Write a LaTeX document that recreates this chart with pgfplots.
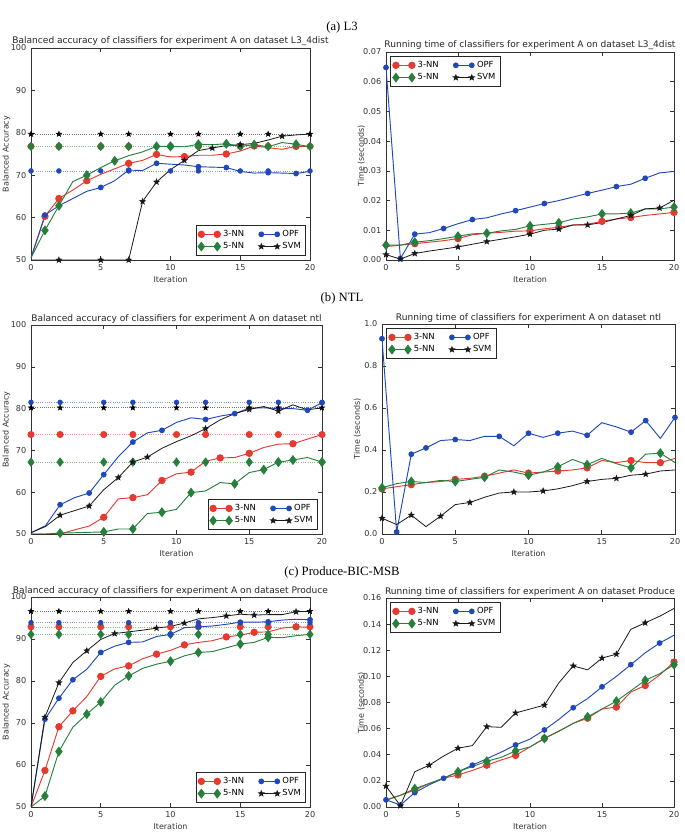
\documentclass[border=0pt]{standalone}
\usepackage{fontspec}
\setmainfont{DejaVu Sans}
\newfontfamily\capfont{Liberation Serif}
\usepackage{pgfplots}
\pgfplotsset{compat=1.18}
\definecolor{cR}{RGB}{228,58,48}
\definecolor{cG}{RGB}{38,128,60}
\definecolor{cB}{RGB}{32,72,186}
\pgfdeclareplotmark{fstar}{%
 \pgfpathmoveto{\pgfpointpolar{90}{\pgfplotmarksize}}%
 \pgfpathlineto{\pgfpointpolar{126}{0.42\pgfplotmarksize}}%
 \pgfpathlineto{\pgfpointpolar{162}{\pgfplotmarksize}}%
 \pgfpathlineto{\pgfpointpolar{198}{0.42\pgfplotmarksize}}%
 \pgfpathlineto{\pgfpointpolar{234}{\pgfplotmarksize}}%
 \pgfpathlineto{\pgfpointpolar{270}{0.42\pgfplotmarksize}}%
 \pgfpathlineto{\pgfpointpolar{306}{\pgfplotmarksize}}%
 \pgfpathlineto{\pgfpointpolar{342}{0.42\pgfplotmarksize}}%
 \pgfpathlineto{\pgfpointpolar{18}{\pgfplotmarksize}}%
 \pgfpathlineto{\pgfpointpolar{54}{0.42\pgfplotmarksize}}%
 \pgfpathclose\pgfusepathqfillstroke}
\pgfplotsset{
 nn3/.style={color=cR, mark=*, mark size=2.4pt, line width=0.7pt, mark options={solid}},
 nn5/.style={color=cG, mark=diamond*, mark size=3.2pt, line width=0.7pt, mark options={solid}},
 opf/.style={color=cB, mark=*, mark size=1.8pt, line width=0.7pt, mark options={solid}},
 svm/.style={color=black!90, mark=fstar, mark size=2.0pt, line width=0.6pt, mark options={solid}},
 common/.style={scale only axis, anchor=south west, xmin=0, xmax=20, xtick={0,5,10,15,20},
  xlabel={Iteration},
  axis line style={line width=0.6pt, black!80},
  tick style={black!80, line width=0.4pt}, major tick length=3pt,
  tick label style={font=\fontsize{6.1}{7}\selectfont, color=black!80},
  label style={font=\fontsize{6}{7}\selectfont, color=black!80},
  xlabel style={yshift=2.5pt},
  ylabel style={at={(rel axis cs:0,0.5)}, yshift=18.5pt, anchor=center},
  title style={font=\fontsize{6.8}{8}\selectfont, color=black!85, yshift=-8pt},
  /pgf/number format/assume math mode=true,
  legend columns=2, legend cell align=left,
  legend style={font=\fontsize{6.3}{7.5}\selectfont, draw=black!85, line width=0.6pt, inner sep=1.5pt,
    /tikz/every even column/.append style={column sep=9pt}, row sep=-1pt},
  legend image code/.code={\draw[##1, mark indices={1,2}] plot coordinates {(0cm,0cm) (0.42cm,0cm)};},
  scaled y ticks=false},
 accax/.style={common, ymin=50, ymax=100, ytick={50,60,...,100}, ylabel={Balanced Accuracy},
  legend style={at={(0.985,0.02)}, anchor=south east}},
 timax/.style={common, ylabel={Time (seconds)},
  legend style={at={(0.015,0.98)}, anchor=north west},
  yticklabel style={/pgf/number format/.cd, fixed, fixed zerofill, precision=#1}},
}
\newcommand{\oneref}[4]{%
 \addplot[#1, draw=#2!55, densely dotted, line width=0.45pt, forget plot, mark options={solid, draw=#2, fill=#2}] coordinates {(0,#4)(2,#4)(5,#4)(7,#4)(10,#4)(12,#4)(15,#4)(17,#4)(20,#4)};}
\newcommand{\reflines}[4]{%
 \oneref{nn3}{cR}{x}{#1}
 \oneref{opf}{cB}{x}{#3}
 \oneref{nn5}{cG}{x}{#2}
 \oneref{svm}{black}{x}{#4}
}
\begin{document}
\begin{tikzpicture}
\useasboundingbox (0,0) rectangle (513.75pt,624pt);
% captions
\node[font=\capfont\fontsize{9.5}{11}\selectfont] at (256.5pt,603.75pt) {(a) L3};
\node[font=\capfont\fontsize{9.5}{11}\selectfont] at (256.5pt,400.5pt) {(b) NTL};
\node[font=\capfont\fontsize{9.5}{11}\selectfont] at (256.5pt,195pt) {(c) Produce-BIC-MSB};

% (a) left
\begin{axis}[accax, at={(23.25pt,429pt)}, width=209.25pt, height=159pt,
 title={Balanced accuracy of classifiers for experiment A on dataset L3\_4dist}]
\reflines{76.8}{76.8}{71.0}{79.7}
\addplot[nn3, mark indices={2,3,5,8,10,12,15,17,20}] coordinates {(0,50.5)(1,60.3)(2,64.5)(3,66.5)(4,68.7)(5,70.2)(6,71.5)(7,72.8)(8,73.5)(9,74.9)(10,74.3)(11,74.4)(12,74.7)(13,74.7)(14,75.0)(15,75.7)(16,76.9)(17,76.5)(18,76.1)(19,76.8)(20,76.8)};
\addlegendentry{3-NN}
\addplot[opf, mark indices={2,3,6,8,10,13,15,18,20}] coordinates {(0,50.5)(1,60.6)(2,62.8)(3,64.5)(4,66.2)(5,67.1)(6,68.7)(7,71.2)(8,71.1)(9,72.8)(10,72.6)(11,72.4)(12,72.0)(13,71.9)(14,71.8)(15,70.9)(16,70.5)(17,70.6)(18,70.5)(19,70.4)(20,70.9)};
\addlegendentry{OPF}
\addplot[nn5, mark indices={2,3,5,7,10,11,13,15,17,20}] coordinates {(0,50.5)(1,57.0)(2,62.8)(3,68.5)(4,70.0)(5,71.8)(6,73.4)(7,74.6)(8,75.5)(9,76.8)(10,76.8)(11,76.7)(12,77.3)(13,77.2)(14,77.4)(15,76.8)(16,77.2)(17,76.7)(18,77.7)(19,77.3)(20,76.7)};
\addlegendentry{5-NN}
\addplot[svm, mark indices={3,6,8,9,10,12,14,16,19}] coordinates {(0,50)(1,50)(2,50)(3,50)(4,50)(5,50)(6,50)(7,50)(8,63.8)(9,68.4)(10,71.3)(11,73.5)(12,75.8)(13,76.4)(14,77.0)(15,77.2)(16,77.5)(17,78.3)(18,79.2)(19,79.5)(20,79.7)};
\addlegendentry{SVM}
\end{axis}

% (a) right
\begin{axis}[timax=2, at={(289.5pt,429pt)}, width=216pt, height=156pt,
 ymin=0, ymax=0.07, ytick={0,0.01,...,0.07},
 title={Running time of classifiers for experiment A on dataset L3\_4dist}]
\addplot[nn3, mark indices={3,6,11,13,16,18,21}] coordinates {(0,0.0045)(1,0.0050)(2,0.0055)(3,0.0060)(4,0.0065)(5,0.0072)(6,0.0085)(7,0.0090)(8,0.0093)(9,0.0097)(10,0.0098)(11,0.0105)(12,0.0110)(13,0.0118)(14,0.0120)(15,0.0130)(16,0.0138)(17,0.0143)(18,0.0150)(19,0.0155)(20,0.0160)};
\addlegendentry{3-NN}
\addplot[opf, mark indices={1,2,3,5,7,10,12,15,17,19}] coordinates {(0,0.0648)(1,0.0005)(2,0.0087)(3,0.0092)(4,0.0106)(5,0.0122)(6,0.0136)(7,0.0142)(8,0.0155)(9,0.0166)(10,0.0178)(11,0.0190)(12,0.0200)(13,0.0212)(14,0.0224)(15,0.0235)(16,0.0247)(17,0.0255)(18,0.0275)(19,0.0293)(20,0.0298)};
\addlegendentry{OPF}
\addplot[nn5, mark indices={1,3,6,8,11,13,16,18,21}] coordinates {(0,0.0050)(1,0.0050)(2,0.0060)(3,0.0065)(4,0.0072)(5,0.0080)(6,0.0088)(7,0.0090)(8,0.0098)(9,0.0103)(10,0.0115)(11,0.0120)(12,0.0125)(13,0.0138)(14,0.0145)(15,0.0155)(16,0.0155)(17,0.0158)(18,0.0172)(19,0.0172)(20,0.0178)};
\addlegendentry{5-NN}
\addplot[svm, mark indices={1,2,3,6,8,11,13,15,18,20}] coordinates {(0,0.0018)(1,0.0003)(2,0.0022)(3,0.0030)(4,0.0037)(5,0.0044)(6,0.0053)(7,0.0062)(8,0.0070)(9,0.0078)(10,0.0087)(11,0.0100)(12,0.0104)(13,0.0118)(14,0.0118)(15,0.0126)(16,0.0138)(17,0.0150)(18,0.0172)(19,0.0175)(20,0.0201)};
\addlegendentry{SVM}
\end{axis}

% (b) left
\begin{axis}[accax, at={(23.25pt,223.5pt)}, width=218.25pt, height=156.75pt,
 title={Balanced accuracy of classifiers for experiment A on dataset ntl}]
\reflines{73.8}{67.2}{81.5}{80.2}
\addplot[nn3, mark indices={6,8,10,12,14,16,19}] coordinates {(0,50)(1,50)(2,50)(3,51.0)(4,51.9)(5,54.0)(6,58.4)(7,58.7)(8,59.4)(9,62.8)(10,64.4)(11,64.8)(12,67.4)(13,68.2)(14,68.3)(15,69.3)(16,70.7)(17,71.5)(18,71.6)(19,72.7)(20,73.8)};
\addlegendentry{3-NN}
\addplot[opf, mark indices={3,5,6,8,10,13,15,20,21}] coordinates {(0,50.3)(1,52.0)(2,57.0)(3,58.7)(4,59.8)(5,64.2)(6,68.5)(7,72.0)(8,74.2)(9,74.8)(10,76.7)(11,77.8)(12,77.4)(13,78.2)(14,78.8)(15,80.1)(16,80.2)(17,80.0)(18,80.0)(19,79.6)(20,81.4)};
\addlegendentry{OPF}
\addplot[nn5, mark indices={3,6,8,10,12,15,17,18,19,21}] coordinates {(0,50)(1,50)(2,50.2)(3,50.3)(4,50.4)(5,50.5)(6,51.2)(7,51.2)(8,54.9)(9,55.2)(10,55.9)(11,59.9)(12,60.3)(13,62.3)(14,62.0)(15,64.7)(16,65.4)(17,67.2)(18,67.7)(19,68.3)(20,67.2)};
\addlegendentry{5-NN}
\addplot[svm, mark indices={3,5,7,8,9,13,16,18}] coordinates {(0,50.3)(1,51.8)(2,54.5)(3,55.6)(4,56.7)(5,60.6)(6,63.5)(7,67.2)(8,68.4)(9,70.5)(10,72.1)(11,73.5)(12,75.2)(13,77.3)(14,78.8)(15,79.8)(16,80.5)(17,79.4)(18,80.9)(19,79.7)(20,80.2)};
\addlegendentry{SVM}
\end{axis}

% (b) right
\begin{axis}[timax=1, at={(286.5pt,223.5pt)}, width=219.75pt, height=157.5pt,
 ymin=0, ymax=1, ytick={0,0.2,...,1.0},
 title={Running time of classifiers for experiment A on dataset ntl}]
\addplot[nn3, mark indices={1,3,6,8,11,13,15,18,20}] coordinates {(0,0.215)(1,0.225)(2,0.235)(3,0.245)(4,0.250)(5,0.260)(6,0.265)(7,0.275)(8,0.290)(9,0.305)(10,0.290)(11,0.295)(12,0.300)(13,0.305)(14,0.315)(15,0.350)(16,0.340)(17,0.350)(18,0.340)(19,0.340)(20,0.360)};
\addlegendentry{3-NN}
\addplot[opf, mark indices={1,2,3,4,6,9,11,13,15,18,19,21}] coordinates {(0,0.930)(1,0.010)(2,0.380)(3,0.410)(4,0.445)(5,0.450)(6,0.445)(7,0.465)(8,0.465)(9,0.420)(10,0.480)(11,0.460)(12,0.480)(13,0.490)(14,0.470)(15,0.530)(16,0.510)(17,0.485)(18,0.540)(19,0.455)(20,0.555)};
\addlegendentry{OPF}
\addplot[nn5, mark indices={1,3,6,8,11,13,15,18,20}] coordinates {(0,0.220)(1,0.240)(2,0.250)(3,0.245)(4,0.255)(5,0.250)(6,0.260)(7,0.270)(8,0.305)(9,0.295)(10,0.280)(11,0.295)(12,0.320)(13,0.355)(14,0.330)(15,0.360)(16,0.335)(17,0.315)(18,0.380)(19,0.385)(20,0.340)};
\addlegendentry{5-NN}
\addplot[svm, mark indices={1,3,5,7,10,12,15,17,19}] coordinates {(0,0.075)(1,0.045)(2,0.090)(3,0.035)(4,0.085)(5,0.140)(6,0.150)(7,0.175)(8,0.195)(9,0.200)(10,0.200)(11,0.205)(12,0.215)(13,0.230)(14,0.250)(15,0.260)(16,0.265)(17,0.280)(18,0.285)(19,0.300)(20,0.305)};
\addlegendentry{SVM}
\end{axis}

% (c) left
\begin{axis}[accax, at={(23.25pt,18.75pt)}, width=209.25pt, height=157.5pt,
 title={Balanced accuracy of classifiers for experiment A on dataset Produce}]
\reflines{92.9}{91.1}{93.9}{96.6}
\addplot[nn3, mark indices={2,3,4,6,8,10,12,15,17,20}] coordinates {(0,50)(1,58.7)(2,69.1)(3,72.9)(4,76.3)(5,81.1)(6,82.9)(7,83.6)(8,85.3)(9,86.4)(10,87.3)(11,88.6)(12,89.2)(13,89.6)(14,90.5)(15,90.9)(16,91.6)(17,91.7)(18,92.6)(19,92.9)(20,92.8)};
\addlegendentry{3-NN}
\addplot[opf, mark indices={2,3,4,6,8,11,13,16,18,21}] coordinates {(0,50)(1,70.9)(2,75.9)(3,80.3)(4,82.8)(5,86.8)(6,88.3)(7,89.2)(8,89.3)(9,90.6)(10,91.1)(11,92.7)(12,92.9)(13,93.1)(14,93.5)(15,94.0)(16,94.0)(17,94.1)(18,94.5)(19,94.7)(20,94.6)};
\addlegendentry{OPF}
\addplot[nn5, mark indices={2,3,5,6,8,11,13,16,18}] coordinates {(0,50)(1,52.6)(2,63.2)(3,69.0)(4,72.1)(5,75.0)(6,79.0)(7,81.2)(8,83.0)(9,84.0)(10,84.7)(11,86.0)(12,86.8)(13,87.0)(14,87.9)(15,88.8)(16,89.2)(17,90.4)(18,90.3)(19,90.8)(20,91.1)};
\addlegendentry{5-NN}
\addplot[svm, mark indices={2,3,5,7,10,12,15,17,20}] coordinates {(0,50)(1,71.4)(2,79.6)(3,84.4)(4,87.2)(5,89.9)(6,91.3)(7,91.7)(8,92.1)(9,92.6)(10,93.0)(11,93.8)(12,94.8)(13,95.1)(14,95.5)(15,95.9)(16,95.7)(17,95.8)(18,95.8)(19,96.5)(20,96.6)};
\addlegendentry{SVM}
\end{axis}

% (c) right
\begin{axis}[timax=2, at={(289.5pt,18.75pt)}, width=216pt, height=156.75pt,
 ymin=0, ymax=0.16, ytick={0,0.02,...,0.16},
 title={Running time of classifiers for experiment A on dataset Produce}]
\addplot[nn3, mark indices={3,6,8,10,12,15,17,19,21}] coordinates {(0,0.0050)(1,0.0090)(2,0.0130)(3,0.0180)(4,0.0220)(5,0.0245)(6,0.0280)(7,0.0320)(8,0.0360)(9,0.0395)(10,0.0460)(11,0.0525)(12,0.0580)(13,0.0640)(14,0.0680)(15,0.0750)(16,0.0765)(17,0.0880)(18,0.0930)(19,0.1010)(20,0.1110)};
\addlegendentry{3-NN}
\addplot[opf, mark indices={1,2,3,5,7,10,12,14,16,18,20}] coordinates {(0,0.0055)(1,0.0015)(2,0.0110)(3,0.0170)(4,0.0220)(5,0.0270)(6,0.0320)(7,0.0370)(8,0.0420)(9,0.0475)(10,0.0520)(11,0.0590)(12,0.0670)(13,0.0760)(14,0.0830)(15,0.0920)(16,0.1000)(17,0.1090)(18,0.1180)(19,0.1255)(20,0.1315)};
\addlegendentry{OPF}
\addplot[nn5, mark indices={3,6,8,10,12,15,17,19,21}] coordinates {(0,0.0055)(1,0.0090)(2,0.0140)(3,0.0180)(4,0.0220)(5,0.0270)(6,0.0310)(7,0.0350)(8,0.0380)(9,0.0430)(10,0.0460)(11,0.0525)(12,0.0580)(13,0.0640)(14,0.0690)(15,0.0750)(16,0.0810)(17,0.0890)(18,0.0970)(19,0.1020)(20,0.1090)};
\addlegendentry{5-NN}
\addplot[svm, mark indices={1,2,4,6,8,10,12,14,16,17,19}] coordinates {(0,0.016)(1,0.001)(2,0.027)(3,0.032)(4,0.039)(5,0.045)(6,0.047)(7,0.0615)(8,0.061)(9,0.072)(10,0.075)(11,0.078)(12,0.095)(13,0.108)(14,0.105)(15,0.114)(16,0.117)(17,0.136)(18,0.141)(19,0.146)(20,0.152)};
\addlegendentry{SVM}
\end{axis}
\end{tikzpicture}
\end{document}
